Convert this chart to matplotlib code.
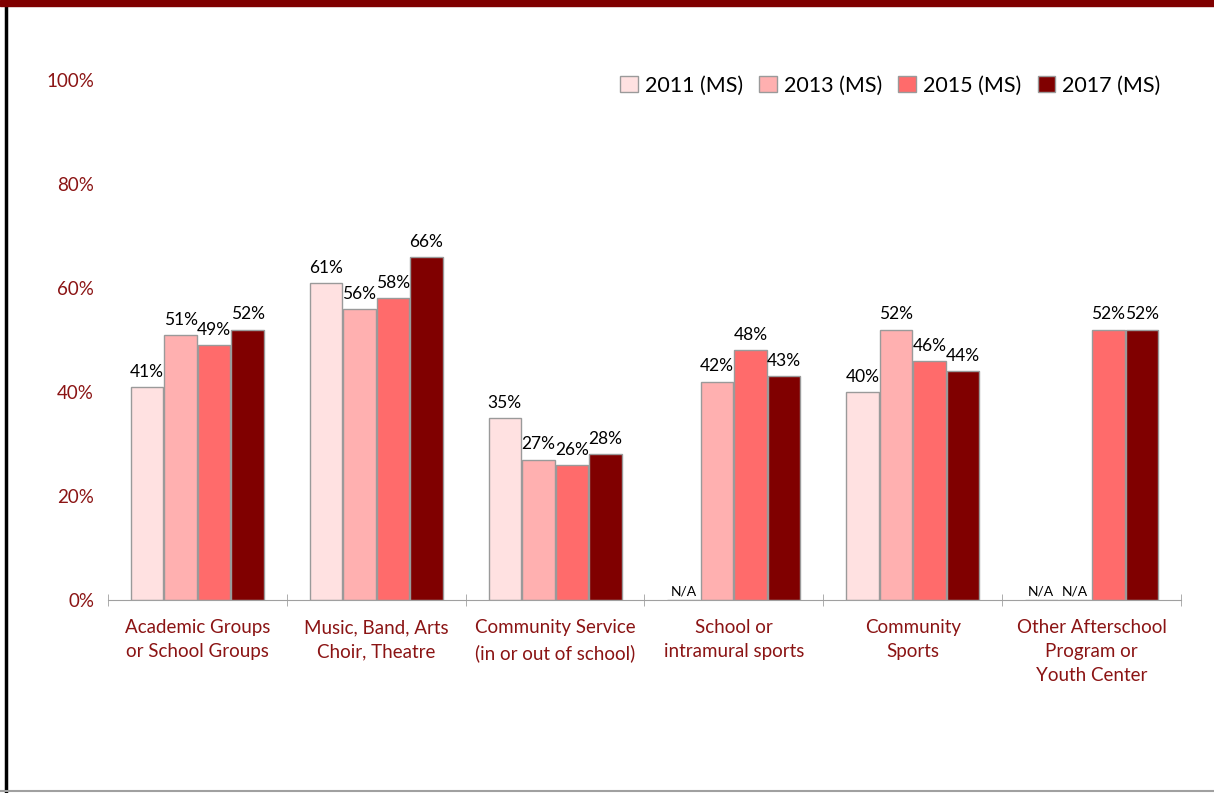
import matplotlib.pyplot as plt
import numpy as np
from matplotlib.patches import Rectangle
from matplotlib.lines import Line2D

plt.rcParams['font.family'] = ['Lato', 'DejaVu Sans']

categories = ['Academic Groups\nor School Groups', 'Music, Band, Arts\nChoir, Theatre',
              'Community Service\n(in or out of school)', 'School or\nintramural sports',
              'Community\nSports', 'Other Afterschool\nProgram or\nYouth Center']
series = ['2011 (MS)', '2013 (MS)', '2015 (MS)', '2017 (MS)']
# None = N/A
v2011 = [41, 61, 35, None, 40, None]
v2013 = [51, 56, 27, 42, 52, None]
v2015 = [49, 58, 26, 48, 46, 52]
v2017 = [52, 66, 28, 43, 44, 52]
colors = ['#FFE1E1', '#FFB0B0', '#FF6B6B', '#800000']

red = '#8B1414'
fig = plt.figure(figsize=(12.14, 7.93), dpi=100)
ax = fig.add_axes([108/1214, 193/793, 1073/1214, 520/793])

x = np.arange(len(categories))
w = 0.1875
offs = [-1.5, -0.5, 0.5, 1.5]
for vals, col, off, lab in zip([v2011, v2013, v2015, v2017], colors, offs, series):
    h = [v / 100 if v is not None else 0 for v in vals]
    bars = ax.bar(x + off * w, h, width=w * 0.97, color=col, edgecolor='#9A9A9A',
                  linewidth=1, label=lab)
    for xi, v in zip(x, vals):
        if v is None:
            ax.text(xi + off * w, 0.004, 'N/A', ha='center', va='bottom', fontsize=10)
        else:
            ax.text(xi + off * w, v / 100 + 0.014, f'{v}%', ha='center', va='bottom',
                    fontsize=12.5)

ax.set_xlim(-0.5, len(categories) - 0.5)
ax.set_ylim(0, 1.0)
ax.set_yticks(np.arange(0, 1.01, 0.2))
ax.set_yticklabels([f'{int(t*100)}%' for t in np.arange(0, 1.01, 0.2)])
ax.set_xticks(x)
ax.set_xticklabels(categories, fontsize=13.5, color=red, linespacing=1.5)
ax.set_xticks(np.arange(-0.5, len(categories)), minor=True)
ax.tick_params(axis='x', which='major', length=0, pad=14)
ax.tick_params(axis='x', which='minor', length=8, direction='inout', color='#A0A0A0')
ax.tick_params(axis='y', length=0, labelsize=13.5, labelcolor=red, pad=10)
for s in ['top', 'right', 'left']:
    ax.spines[s].set_visible(False)
ax.spines['bottom'].set_color('#A0A0A0')

fig.legend(loc='upper right', bbox_to_anchor=(1180/1214, 1 - 56/793), ncol=4,
           frameon=False, fontsize=15.5, handlelength=0.8, handleheight=0.8,
           handletextpad=0.35, columnspacing=0.75)

fig.patches.append(Rectangle((0, 1 - 6/793), 1, 6/793, transform=fig.transFigure,
                             color='#800000', zorder=5))
fig.lines.append(Line2D([6/1214, 6/1214], [0, 1], transform=fig.transFigure,
                        color='black', linewidth=2.5))
fig.lines.append(Line2D([0, 1], [2/793, 2/793], transform=fig.transFigure,
                        color='#A0A0A0', linewidth=1.5))

fig.savefig('out.png', dpi=100)
